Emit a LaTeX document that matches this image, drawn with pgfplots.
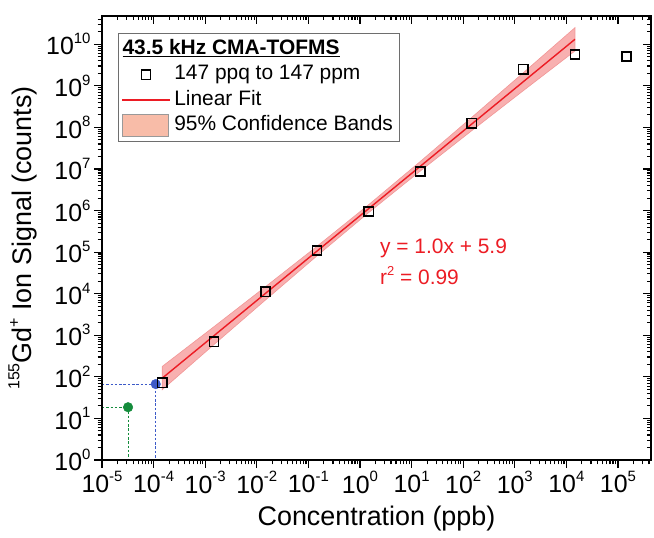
\documentclass[border=0pt]{standalone}
\usepackage{pgfplots}
\pgfplotsset{compat=1.18}
\usepackage{fontspec}
\setmainfont{Liberation Sans}
\definecolor{bandfill}{RGB}{248,176,176}
\definecolor{bandedge}{RGB}{242,150,150}
\definecolor{legpatch}{RGB}{248,188,168}
\definecolor{fitred}{RGB}{236,28,36}
\definecolor{dotblue}{RGB}{60,90,200}
\definecolor{dotgreen}{RGB}{20,140,60}
\definecolor{legframe}{RGB}{110,110,110}
\newcommand{\sps}[1]{\raisebox{0.45em}{\fontsize{15}{15}\selectfont #1}}
\newcommand{\spl}[1]{\raisebox{0.45em}{\fontsize{16}{16}\selectfont #1}}
\newcommand{\spa}[1]{\raisebox{0.45em}{\fontsize{13}{13}\selectfont #1}}
\pgfplotsset{
  sqlegend/.style={legend image code/.code={\draw[mark repeat=2,mark phase=2,##1] plot coordinates {(0bp,0bp) (24bp,0bp) (48bp,0bp)};}},
  linelegend/.style={legend image code/.code={\draw[##1] (0bp,0bp) -- (48bp,0bp);}},
  patchlegend/.style={legend image code/.code={\filldraw[fill=legpatch, draw=legframe!70, line width=0.6bp] (0bp,-11bp) rectangle (46bp,11bp);}},
  titlelegend/.style={legend image code/.code={\path[draw=none] (0bp,-10bp) rectangle (48bp,10bp); \node[overlay, draw=none, anchor=west, inner sep=0pt, font=\fontsize{21}{25}\selectfont\bfseries] at (0bp,0bp) {\underline{43.5 kHz CMA-TOFMS}};}},
  myframe/.style={
    width=549bp, height=444bp, scale only axis,
    xmin=1e-5, xmax=4.37e5, ymin=1, ymax=4.79e10,
    axis line style={line width=1.3bp},
    major tick length=8bp, minor tick length=4.5bp,
    tick style={black, line width=1.1bp},
    xtick={1e-5,1e-4,1e-3,1e-2,1e-1,1,1e1,1e2,1e3,1e4,1e5},
    ytick={1,1e1,1e2,1e3,1e4,1e5,1e6,1e7,1e8,1e9,1e10},
    minor xtick={2e-5,3e-5,4e-5,5e-5,6e-5,7e-5,8e-5,9e-5,
      2e-4,3e-4,4e-4,5e-4,6e-4,7e-4,8e-4,9e-4,
      2e-3,3e-3,4e-3,5e-3,6e-3,7e-3,8e-3,9e-3,
      2e-2,3e-2,4e-2,5e-2,6e-2,7e-2,8e-2,9e-2,
      0.2,0.3,0.4,0.5,0.6,0.7,0.8,0.9,
      2,3,4,5,6,7,8,9,
      20,30,40,50,60,70,80,90,
      200,300,400,500,600,700,800,900,
      2e3,3e3,4e3,5e3,6e3,7e3,8e3,9e3,
      2e4,3e4,4e4,5e4,6e4,7e4,8e4,9e4,
      2e5,3e5,4e5},
    minor ytick={2,3,4,5,6,7,8,9,
      20,30,40,50,60,70,80,90,
      200,300,400,500,600,700,800,900,
      2e3,3e3,4e3,5e3,6e3,7e3,8e3,9e3,
      2e4,3e4,4e4,5e4,6e4,7e4,8e4,9e4,
      2e5,3e5,4e5,5e5,6e5,7e5,8e5,9e5,
      2e6,3e6,4e6,5e6,6e6,7e6,8e6,9e6,
      2e7,3e7,4e7,5e7,6e7,7e7,8e7,9e7,
      2e8,3e8,4e8,5e8,6e8,7e8,8e8,9e8,
      2e9,3e9,4e9,5e9,6e9,7e9,8e9,9e9,
      2e10,3e10,4e10},
  },
}
\begin{document}
\begin{tikzpicture}
\begin{axis}[name=ax, xmode=log, ymode=log, myframe,
  tick align=outside, xtick pos=bottom, ytick pos=left,
  xticklabels={10\sps{-5},10\sps{-4},10\sps{-3},10\sps{-2},10\sps{-1},10\sps{0},10\sps{1},10\sps{2},10\sps{3},10\sps{4},10\sps{5}},
  yticklabels={10\sps{0},10\sps{1},10\sps{2},10\sps{3},10\sps{4},10\sps{5},10\sps{6},10\sps{7},10\sps{8},10\sps{9},10\sps{10}},
  tick label style={font=\fontsize{25}{30}\selectfont},
  xlabel={Concentration (ppb)},
  ylabel={\spl{155}Gd\spl{+} Ion Signal (counts)},
  label style={font=\fontsize{27}{32}\selectfont},
  xlabel style={at={(axis description cs:0.5,0)}, anchor=north, yshift=-46bp, inner sep=0pt},
  ylabel style={at={(axis description cs:-0.118,0.5)}, anchor=south, inner sep=0pt},
  legend style={at={(axis description cs:0.0291,0.9618)}, anchor=north west,
    draw=legframe, line width=0.9bp, font=\fontsize{21}{25}\selectfont,
    inner xsep=3bp, inner ysep=3bp, row sep=0bp,
    nodes={inner xsep=3.5bp, inner ysep=2.5bp, text height=15.5bp, text depth=5bp}},
  legend cell align=left,
]
% confidence band
\addplot[fill=bandfill, draw=bandedge, line width=0.6bp, forget plot] coordinates {
 (1.47e-4,178) (1.47e-3,1600) (1.47e-2,14706) (1.47e-1,138357) (1.47,1.380e6)
 (14.7,1.510e7) (147,1.750e8) (1470,2.070e9) (14700,2.512e10)
 (14700,6.918e9) (1470,7.691e8) (147,8.375e7) (14.7,8.892e6) (1.47,8.913e5)
 (1.47e-1,81470) (1.47e-2,7041) (1.47e-3,594) (1.47e-4,49) (1.47e-4,178)
};
% linear fit
\addplot[fitred, line width=1.4bp, forget plot] coordinates {(1.47e-4,93) (1.47e4,1.32e10)};
% guide lines
\addplot[dotblue, line width=1bp, dash pattern=on 2.5bp off 1.8bp, forget plot] coordinates {(1e-5,67) (1.1e-4,67) (1.1e-4,1)};
\addplot[dotgreen, line width=1bp, dash pattern=on 2.5bp off 1.8bp, forget plot] coordinates {(1e-5,18.6) (3.2e-5,18.6) (3.2e-5,1)};
\addplot[only marks, mark=*, mark size=4.8bp, dotblue, forget plot] coordinates {(1.1e-4,67)};
\addplot[only marks, mark=*, mark size=4.8bp, dotgreen, forget plot] coordinates {(3.2e-5,18.6)};
% legend title
\addlegendimage{titlelegend}
\addlegendentry{}
% data
\addplot[only marks, mark=square, mark size=4.6bp, black, mark options={line width=1.4bp}, sqlegend]
 coordinates {(1.47e-4,72) (1.47e-3,700) (1.47e-2,1.12e4) (1.47e-1,1.09e5) (1.47,9.5e5)
  (14.7,8.7e6) (147,1.25e8) (1470,2.5e9) (14700,5.7e9) (147000,5.1e9)};
\addlegendentry{147 ppq to 147 ppm}
\addlegendimage{fitred, line width=1.4bp, linelegend}
\addlegendentry{Linear Fit}
\addlegendimage{patchlegend}
\addlegendentry{95\% Confidence Bands}
\node[anchor=base west, inner sep=0pt, text=fitred, font=\fontsize{21}{25}\selectfont] at (axis cs:2.44,9.2e4) {y = 1.0x + 5.9};
\node[anchor=base west, inner sep=0pt, text=fitred, font=\fontsize{21}{25}\selectfont] at (axis cs:2.44,1.65e4) {r\spa{2} = 0.99};
\end{axis}
\begin{axis}[xmode=log, ymode=log, myframe,
  tick align=inside, xtick pos=top, ytick pos=right,
  xticklabels={}, yticklabels={}]
\addplot[draw=none, forget plot] coordinates {(1e-5,1) (1e5,1e10)};
\end{axis}
\pgfresetboundingbox
\path[use as bounding box] ([xshift=-102bp,yshift=-78bp]ax.south west) rectangle ([xshift=3bp,yshift=16bp]ax.north east);
\end{tikzpicture}
\end{document}
